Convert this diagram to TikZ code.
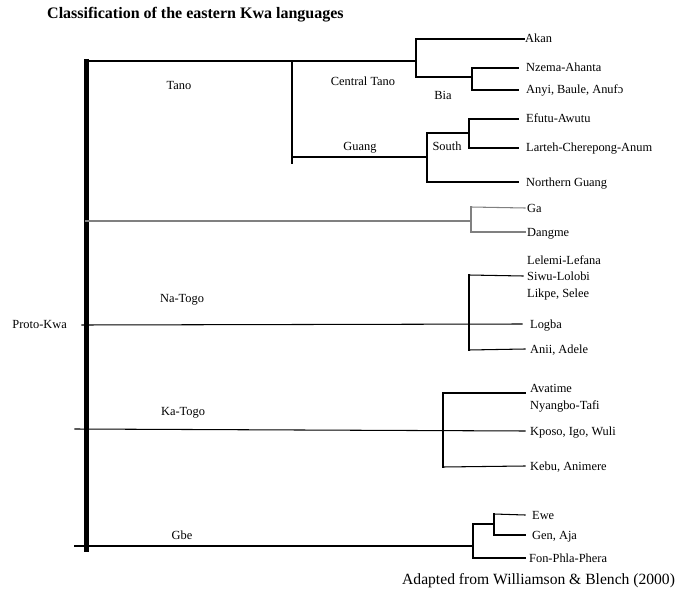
\documentclass[tikz,border=0pt]{standalone}
\usepackage{fontspec}
\setmainfont{Liberation Serif}
\begin{document}
\begin{tikzpicture}[x=1pt,y=-1pt,
  br/.style={line width=1.05pt, line cap=rect},
  gbr/.style={br, draw=black!50},
  bar/.style={line width=5pt},
  lbl/.style={font=\fontsize{12.4}{15}\selectfont, inner sep=0pt, text height=9pt, text depth=1pt},
  leaf/.style={lbl, anchor=west, inner xsep=5pt},
  ttl/.style={font=\fontsize{16}{18}\selectfont\bfseries, inner sep=0pt, anchor=west},
  captext/.style={font=\fontsize{15.6}{18}\selectfont, inner sep=0pt, anchor=west}]
\useasboundingbox (0,0) rectangle (681,594);
% title and caption
\node[ttl] (title) at (47,15) {Classification of the eastern Kwa languages};
\node[captext] (caption) at (402,581) {Adapted from Williamson \& Blench (2000)};
% root
\node[lbl, anchor=east] (proto) at (67,324) {Proto-Kwa};
\coordinate (bartop) at (86,59);
\coordinate (barbot) at (86,552);
\draw[bar] (bartop) -- (barbot);
% ---------- Tano ----------
\coordinate (tanoR) at (86,61);
\coordinate (ct) at (416,61);
\coordinate (guangJ) at (292,61);
\coordinate (guangJb) at (292,163);
\coordinate (guangS) at (292,157);
\coordinate (guangN) at (427,157);
\draw[br] (tanoR) -- (ct);
\draw[br] (guangJ) -- (guangJb);
\draw[br] (guangS) -- (guangN);
\node[lbl] (tano) at (179,86) {Tano};
\node[lbl] (centraltano) at (363,82) {Central Tano};
\node[lbl] (guang) at (360,146) {Guang};
% Central Tano
\coordinate (ctTop) at (416,39);
\coordinate (ctBot) at (416,77);
\coordinate (bia) at (472,77);
\coordinate (biaTop) at (472,68);
\coordinate (biaBot) at (472,90);
\node[leaf, inner xsep=1pt] (akan) at (524,39) {Akan};
\node[leaf, inner xsep=8pt] (nzema) at (518,68) {Nzema-Ahanta};
\node[leaf, inner xsep=8pt] (anyi) at (518,90) {Anyi, Baule, Anuf\char"0254};
\draw[br] (ctTop) -- (ctBot);
\draw[br] (ctTop) -- (akan.west);
\draw[br] (ctBot) -- (bia);
\draw[br] (biaTop) -- (biaBot);
\draw[br] (biaTop) -- (nzema.west);
\draw[br] (biaBot) -- (anyi.west);
\node[lbl] (bialbl) at (443,96) {Bia};
% Guang
\coordinate (gTop) at (427,133);
\coordinate (gBot) at (427,182);
\coordinate (south) at (469,133);
\coordinate (southTop) at (469,119);
\coordinate (southBot) at (469,148);
\node[leaf, inner xsep=8pt] (efutu) at (518,119) {Efutu-Awutu};
\node[leaf, inner xsep=8pt] (larteh) at (518,148) {Larteh-Cherepong-Anum};
\node[leaf, inner xsep=8pt] (nguang) at (518,182) {Northern Guang};
\draw[br] (gTop) -- (gBot);
\draw[br] (gTop) -- (south);
\draw[br] (southTop) -- (southBot);
\draw[br] (southTop) -- (efutu.west);
\draw[br] (southBot) -- (larteh.west);
\draw[br] (gBot) -- (nguang.west);
\node[lbl] (southlbl) at (447,146) {South};
% ---------- Ga-Dangme ----------
\coordinate (gaR) at (86,221);
\coordinate (gaJ) at (471,221);
\coordinate (gaTop) at (471,207);
\coordinate (gaBot) at (471,232);
\node[leaf, inner xsep=2pt] (ga) at (525,208) {Ga};
\node[leaf, inner xsep=2pt] (dangme) at (525,232) {Dangme};
\draw[gbr] (gaR) -- (gaJ);
\draw[gbr] (gaTop) -- (gaBot);
\draw[gbr] (gaTop) -- (ga.west);
\draw[gbr] (gaBot) -- (dangme.west);
% ---------- Na-Togo ----------
\coordinate (naR) at (82,325);
\coordinate (naTop) at (469,275);
\coordinate (naBot) at (469,350);
\node[lbl] (natogo) at (182,298) {Na-Togo};
\node[leaf, inner xsep=8pt] (logba) at (522,324) {Logba};
\node[leaf, inner xsep=4pt] (lelemi) at (523,260) {Lelemi-Lefana};
\node[leaf, inner xsep=4pt] (siwu) at (523,276) {Siwu-Lolobi};
\node[leaf, inner xsep=4pt] (likpe) at (523,293) {Likpe, Selee};
\node[leaf, inner xsep=5pt] (anii) at (525,349) {Anii, Adele};
\draw[br] (naR) -- (logba.west);
\draw[br] (naTop) -- (naBot);
\draw[br] (naTop) -- (siwu.west);
\draw[br] (naBot) -- (anii.west);
% ---------- Ka-Togo ----------
\coordinate (kaR) at (75,429);
\coordinate (kaTop) at (443,393);
\coordinate (kaBot) at (443,467);
\node[lbl] (katogo) at (183,411) {Ka-Togo};
\node[leaf, inner xsep=5pt] (avatime) at (525,388) {Avatime};
\node[leaf, inner xsep=5pt] (nyangbo) at (525,405) {Nyangbo-Tafi};
\coordinate (avaEnd) at (525,393);
\node[leaf, inner xsep=5pt] (kposo) at (525,431) {Kposo, Igo, Wuli};
\node[leaf, inner xsep=5pt] (kebu) at (525,466) {Kebu, Animere};
\draw[br] (kaR) -- (kposo.west);
\draw[br] (kaTop) -- (kaBot);
\draw[br] (kaTop) -- (avaEnd);
\draw[br] (kaBot) -- (kebu.west);
% ---------- Gbe ----------
\coordinate (gbeR) at (75,546);
\coordinate (gbeJ) at (473,546);
\coordinate (gbeTop) at (473,524);
\coordinate (gbeBot) at (473,558);
\coordinate (eweJ) at (494,524);
\coordinate (eweTop) at (494,514);
\coordinate (eweBot) at (494,535);
\node[lbl] (gbe) at (182,535) {Gbe};
\node[leaf, inner xsep=7pt] (ewe) at (525,515) {Ewe};
\node[leaf, inner xsep=7pt] (gen) at (525,535) {Gen, Aja};
\node[leaf, inner xsep=4pt] (fon) at (525,558) {Fon-Phla-Phera};
\draw[br] (gbeR) -- (gbeJ);
\draw[br] (gbeTop) -- (gbeBot);
\draw[br] (gbeTop) -- (eweJ);
\draw[br] (eweTop) -- (eweBot);
\draw[br] (eweTop) -- (ewe.west);
\draw[br] (eweBot) -- (gen.west);
\draw[br] (gbeBot) -- (fon.west);
\end{tikzpicture}
\end{document}
